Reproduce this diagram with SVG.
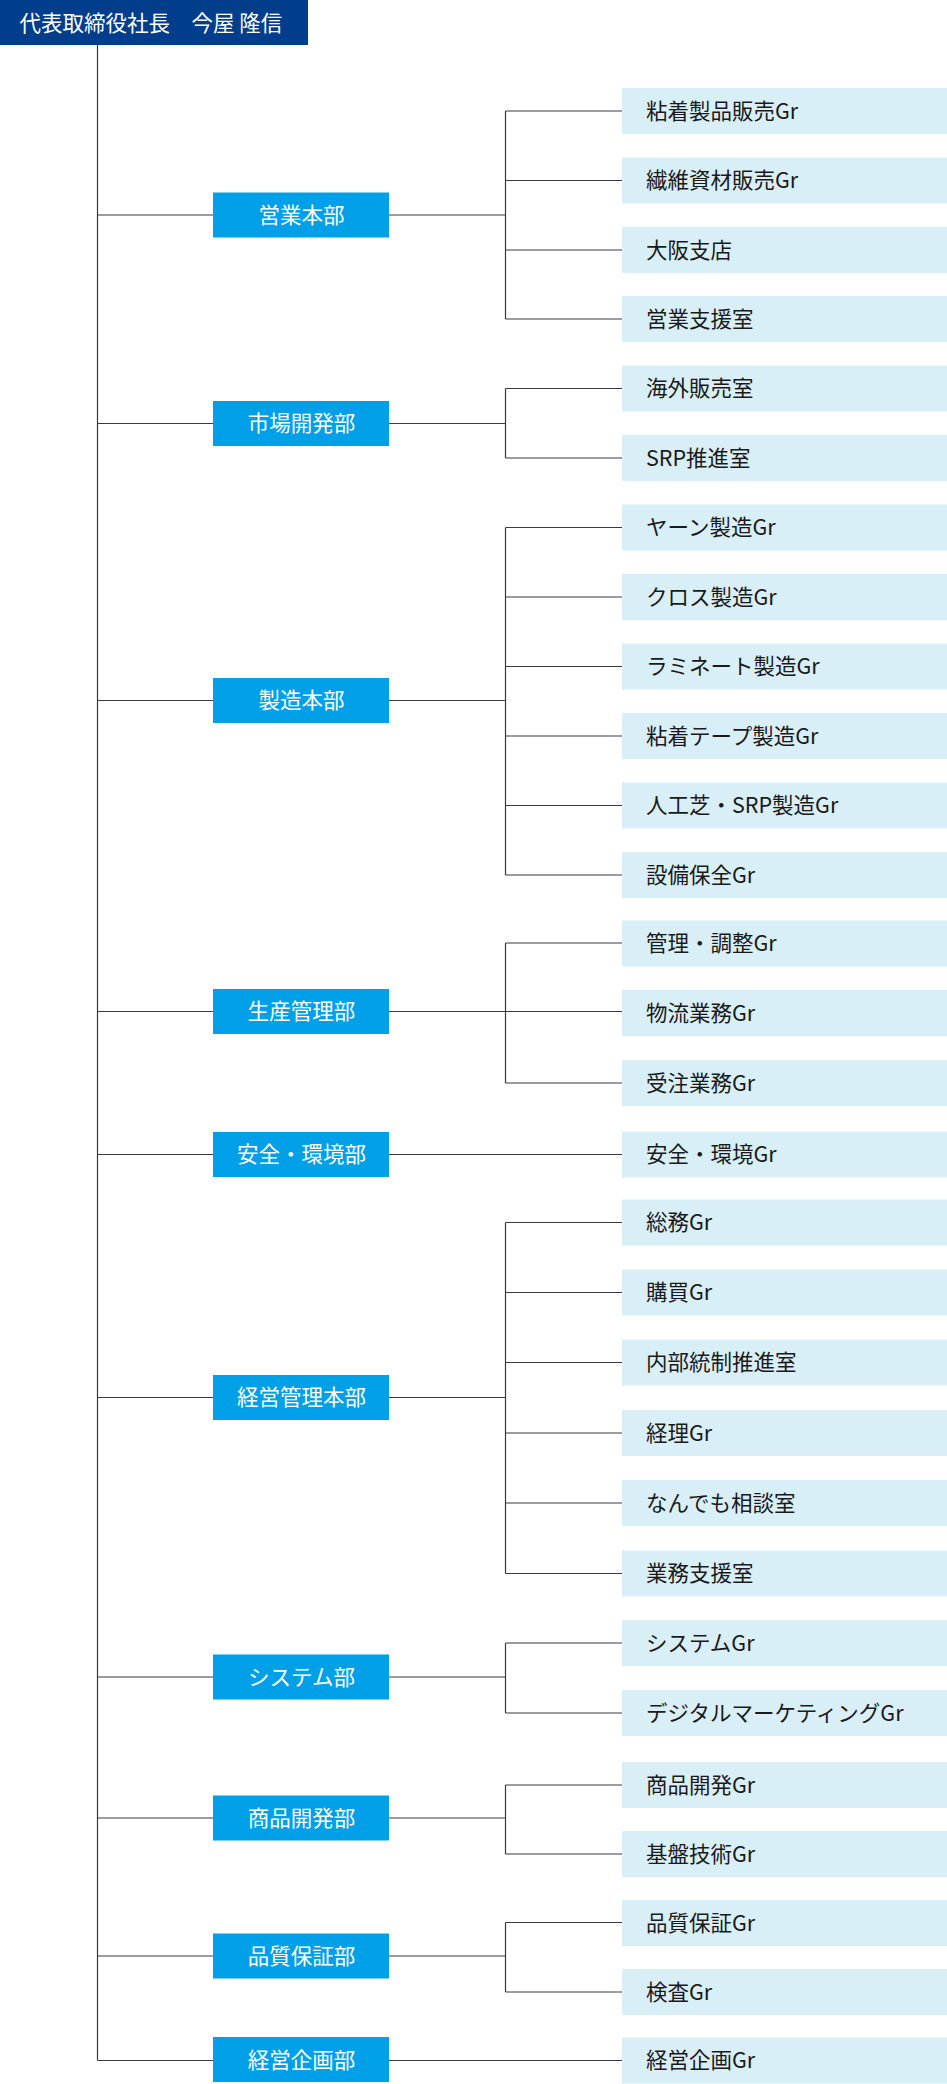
<svg xmlns="http://www.w3.org/2000/svg" width="947" height="2084" viewBox="0 0 947 2084">
<style>
text{font-family:"Noto Sans CJK JP","Noto Sans",sans-serif;font-size:21.5px}
.top{fill:#003d8b}
.dept{fill:#00a0e8}
.child{fill:#d9eff8}
.tw{fill:#ffffff}
.tc{fill:#1a1a1a}
.dt{fill:#ffffff;text-anchor:middle}
#connectors path{fill:none;stroke:#3a3a3a;stroke-width:1.2}
</style>
<rect width="947" height="2084" fill="#ffffff"/>
<g id="connectors">
<path d="M97.5 45V2060.5"/>
<path d="M97.5 215H213M97.5 423.5H213M97.5 700.5H213M97.5 1011.5H213M97.5 1154.5H213M97.5 1397.5H213M97.5 1677H213M97.5 1818H213M97.5 1956H213M97.5 2060.5H213"/>
<path d="M389 215H505.5M505.5 111V319M505.5 111H622M505.5 180.5H622M505.5 250H622M505.5 319H622"/>
<path d="M389 423.5H505.5M505.5 388.5V458M505.5 388.5H622M505.5 458H622"/>
<path d="M389 700.5H505.5M505.5 527.5V875M505.5 527.5H622M505.5 597H622M505.5 666.5H622M505.5 736H622M505.5 805.5H622M505.5 875H622"/>
<path d="M389 1011.5H505.5M505.5 943V1083M505.5 943H622M505.5 1011.5H622M505.5 1083H622"/>
<path d="M389 1154.5H622"/>
<path d="M389 1397.5H505.5M505.5 1222.5V1573.5M505.5 1222.5H622M505.5 1292.5H622M505.5 1362.5H622M505.5 1433H622M505.5 1503H622M505.5 1573.5H622"/>
<path d="M389 1677H505.5M505.5 1643V1713M505.5 1643H622M505.5 1713H622"/>
<path d="M389 1818H505.5M505.5 1785V1854M505.5 1785H622M505.5 1854H622"/>
<path d="M389 1956H505.5M505.5 1922.5V1992M505.5 1922.5H622M505.5 1992H622"/>
<path d="M389 2060.5H622"/>
</g>
<g id="president"><rect class="top" x="0" y="0" width="308" height="45"/><text class="tw" x="19.5" y="31">代表取締役社長　今屋 隆信</text></g>

<g id="d1"><rect class="dept" x="213" y="192.5" width="176" height="45"/><text class="dt" x="301.5" y="222.5">営業本部</text></g>
<g id="d2"><rect class="dept" x="213" y="401" width="176" height="45"/><text class="dt" x="301.5" y="431">市場開発部</text></g>
<g id="d3"><rect class="dept" x="213" y="678" width="176" height="45"/><text class="dt" x="301.5" y="708">製造本部</text></g>
<g id="d4"><rect class="dept" x="213" y="989" width="176" height="45"/><text class="dt" x="301.5" y="1019">生産管理部</text></g>
<g id="d5"><rect class="dept" x="213" y="1132" width="176" height="45"/><text class="dt" x="301.5" y="1162">安全・環境部</text></g>
<g id="d6"><rect class="dept" x="213" y="1375" width="176" height="45"/><text class="dt" x="301.5" y="1405">経営管理本部</text></g>
<g id="d7"><rect class="dept" x="213" y="1654.5" width="176" height="45"/><text class="dt" x="301.5" y="1684.5">システム部</text></g>
<g id="d8"><rect class="dept" x="213" y="1795.5" width="176" height="45"/><text class="dt" x="301.5" y="1825.5">商品開発部</text></g>
<g id="d9"><rect class="dept" x="213" y="1933.5" width="176" height="45"/><text class="dt" x="301.5" y="1963.5">品質保証部</text></g>
<g id="d10"><rect class="dept" x="213" y="2037" width="176" height="45"/><text class="dt" x="301.5" y="2068">経営企画部</text></g>

<g id="c1"><rect class="child" x="622" y="88" width="325" height="46"/><text class="tc" x="646" y="118.5">粘着製品販売Gr</text></g>
<g id="c2"><rect class="child" x="622" y="157.5" width="325" height="46"/><text class="tc" x="646" y="188">繊維資材販売Gr</text></g>
<g id="c3"><rect class="child" x="622" y="227" width="325" height="46"/><text class="tc" x="646" y="257.5">大阪支店</text></g>
<g id="c4"><rect class="child" x="622" y="296" width="325" height="46"/><text class="tc" x="646" y="326.5">営業支援室</text></g>
<g id="c5"><rect class="child" x="622" y="365.5" width="325" height="46"/><text class="tc" x="646" y="396">海外販売室</text></g>
<g id="c6"><rect class="child" x="622" y="435" width="325" height="46"/><text class="tc" x="646" y="465.5">SRP推進室</text></g>
<g id="c7"><rect class="child" x="622" y="504.5" width="325" height="46"/><text class="tc" x="646" y="535">ヤーン製造Gr</text></g>
<g id="c8"><rect class="child" x="622" y="574" width="325" height="46"/><text class="tc" x="646" y="604.5">クロス製造Gr</text></g>
<g id="c9"><rect class="child" x="622" y="643.5" width="325" height="46"/><text class="tc" x="646" y="674">ラミネート製造Gr</text></g>
<g id="c10"><rect class="child" x="622" y="713" width="325" height="46"/><text class="tc" x="646" y="743.5">粘着テープ製造Gr</text></g>
<g id="c11"><rect class="child" x="622" y="782.5" width="325" height="46"/><text class="tc" x="646" y="813">人工芝・SRP製造Gr</text></g>
<g id="c12"><rect class="child" x="622" y="852" width="325" height="46"/><text class="tc" x="646" y="882.5">設備保全Gr</text></g>
<g id="c13"><rect class="child" x="622" y="920.5" width="325" height="46"/><text class="tc" x="646" y="951">管理・調整Gr</text></g>
<g id="c14"><rect class="child" x="622" y="990" width="325" height="46"/><text class="tc" x="646" y="1020.5">物流業務Gr</text></g>
<g id="c15"><rect class="child" x="622" y="1060" width="325" height="46"/><text class="tc" x="646" y="1090.5">受注業務Gr</text></g>
<g id="c16"><rect class="child" x="622" y="1131.5" width="325" height="46"/><text class="tc" x="646" y="1162">安全・環境Gr</text></g>
<g id="c17"><rect class="child" x="622" y="1199.5" width="325" height="46"/><text class="tc" x="646" y="1230">総務Gr</text></g>
<g id="c18"><rect class="child" x="622" y="1269.5" width="325" height="46"/><text class="tc" x="646" y="1300">購買Gr</text></g>
<g id="c19"><rect class="child" x="622" y="1339.5" width="325" height="46"/><text class="tc" x="646" y="1370">内部統制推進室</text></g>
<g id="c20"><rect class="child" x="622" y="1410" width="325" height="46"/><text class="tc" x="646" y="1440.5">経理Gr</text></g>
<g id="c21"><rect class="child" x="622" y="1480" width="325" height="46"/><text class="tc" x="646" y="1510.5">なんでも相談室</text></g>
<g id="c22"><rect class="child" x="622" y="1550.5" width="325" height="46"/><text class="tc" x="646" y="1581">業務支援室</text></g>
<g id="c23"><rect class="child" x="622" y="1620" width="325" height="46"/><text class="tc" x="646" y="1650.5">システムGr</text></g>
<g id="c24"><rect class="child" x="622" y="1690" width="325" height="46"/><text class="tc" x="646" y="1720.5">デジタルマーケティングGr</text></g>
<g id="c25"><rect class="child" x="622" y="1762" width="325" height="46"/><text class="tc" x="646" y="1792.5">商品開発Gr</text></g>
<g id="c26"><rect class="child" x="622" y="1831" width="325" height="46"/><text class="tc" x="646" y="1861.5">基盤技術Gr</text></g>
<g id="c27"><rect class="child" x="622" y="1900" width="325" height="46"/><text class="tc" x="646" y="1930.5">品質保証Gr</text></g>
<g id="c28"><rect class="child" x="622" y="1969" width="325" height="46"/><text class="tc" x="646" y="1999.5">検査Gr</text></g>
<g id="c29"><rect class="child" x="622" y="2037.5" width="325" height="46"/><text class="tc" x="646" y="2068">経営企画Gr</text></g>
</svg>
